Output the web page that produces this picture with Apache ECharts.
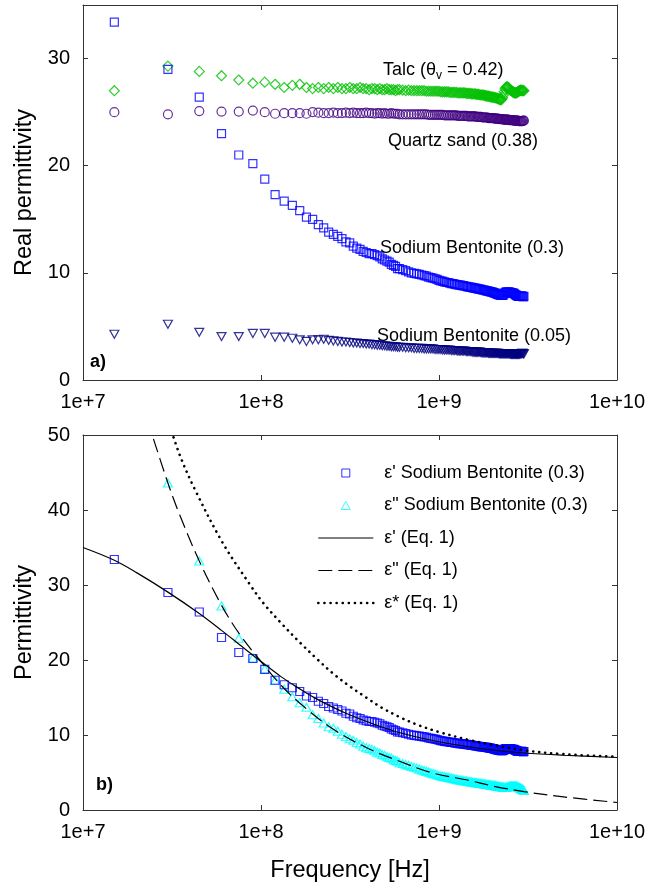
<!DOCTYPE html>
<html>
<head>
<meta charset="utf-8">
<title>Permittivity vs frequency</title>
<script src="https://cdn.jsdelivr.net/npm/echarts@6.0.0/dist/echarts.min.js"></script>
<style>
  html, body { margin: 0; padding: 0; background: #fff; }
  #chart { width: 648px; height: 888px; }
</style>
</head>
<body>
<div id="chart"></div>
<script>
// measured frequencies (MHz), shared by all measured series
var freqMHz = [15, 30, 45, 60, 75, 90, 105, 120, 135, 150,
  165, 180, 195, 210, 225, 240, 255, 270, 285, 300,
  315, 330, 345, 360, 375, 390, 405, 420, 435, 450,
  465, 480, 495, 510, 525, 540, 555, 570, 585, 600,
  625, 650, 675, 700, 725, 750, 775, 800,
  825, 850, 875, 900, 925, 950, 975, 1000,
  1025, 1050, 1075, 1100, 1125, 1150, 1175, 1200,
  1225, 1250, 1275, 1300, 1325, 1350, 1375, 1400,
  1425, 1450, 1475, 1500, 1525, 1550, 1575, 1600,
  1625, 1650, 1675, 1700, 1725, 1750, 1775, 1800,
  1825, 1850, 1875, 1900, 1925, 1950, 1975, 2000,
  2025, 2050, 2075, 2100, 2125, 2150, 2175, 2200,
  2225, 2250, 2275, 2300, 2325, 2350, 2375, 2400,
  2425, 2450, 2475, 2500, 2525, 2550, 2575, 2600,
  2625, 2650, 2675, 2700, 2725, 2750, 2775, 2800,
  2825, 2850, 2875, 2900, 2925, 2950, 2975, 3000];

// panel a) real permittivity
var talc = [27.0, 29.3, 28.8, 28.4, 28.0, 27.7, 27.8, 27.6, 27.3, 27.5,
  27.6, 27.3, 27.2, 27.3, 27.2, 27.3, 27.2, 27.3, 27.2, 27.2,
  27.3, 27.2, 27.2, 27.3, 27.2, 27.2, 27.1, 27.2, 27.2, 27.1,
  27.2, 27.1, 27.1, 27.2, 27.1, 27.1, 27.1, 27.0, 27.1, 27.1,
  27.05, 27.0, 27.05, 27.0, 27.0, 27.0, 27.0, 27.0,
  27.0, 26.95, 26.95, 26.95, 26.95, 26.95, 26.95, 26.95,
  26.9, 26.9, 26.9, 26.9, 26.9, 26.85, 26.85, 26.85,
  26.85, 26.85, 26.8, 26.8, 26.8, 26.8, 26.8, 26.8,
  26.75, 26.75, 26.75, 26.75, 26.7, 26.7, 26.7, 26.7,
  26.65, 26.65, 26.65, 26.6, 26.6, 26.6, 26.6, 26.55,
  26.55, 26.5, 26.5, 26.5, 26.45, 26.45, 26.4, 26.4,
  26.4, 26.35, 26.35, 26.3, 26.3, 26.25, 26.2, 26.2,
  26.15, 26.2, 26.35, 26.6, 26.9, 27.15, 27.3, 27.35,
  27.35, 27.3, 27.2, 27.1, 27.05, 27.0, 26.95, 26.9,
  26.85, 26.8, 26.8, 26.8, 26.8, 26.85, 26.9, 26.95,
  27.0, 27.0, 27.05, 27.05, 27.0, 27.0, 27.0, 27.0];

var quartz = [25.0, 24.8, 25.1, 25.05, 25.05, 25.15, 25.0, 24.85, 24.9, 24.9,
  24.9, 24.85, 25.0, 24.95, 24.9, 24.9, 24.95, 24.9, 24.9, 24.95,
  24.9, 24.95, 24.9, 24.9, 24.9, 24.95, 24.9, 24.9, 24.85, 24.9,
  24.9, 24.85, 24.9, 24.85, 24.85, 24.9, 24.85, 24.85, 24.85, 24.8,
  24.8, 24.8, 24.8, 24.8, 24.8, 24.8, 24.8, 24.8,
  24.8, 24.8, 24.75, 24.75, 24.75, 24.75, 24.75, 24.75,
  24.75, 24.75, 24.7, 24.7, 24.7, 24.7, 24.7, 24.7,
  24.7, 24.7, 24.65, 24.65, 24.65, 24.65, 24.65, 24.65,
  24.65, 24.6, 24.6, 24.6, 24.6, 24.6, 24.6, 24.6,
  24.55, 24.55, 24.55, 24.55, 24.55, 24.5, 24.5, 24.5,
  24.5, 24.5, 24.5, 24.45, 24.45, 24.45, 24.45, 24.45,
  24.45, 24.4, 24.4, 24.4, 24.4, 24.4, 24.35, 24.35,
  24.35, 24.35, 24.35, 24.3, 24.3, 24.3, 24.3, 24.3,
  24.3, 24.3, 24.25, 24.25, 24.25, 24.25, 24.25, 24.25,
  24.2, 24.2, 24.2, 24.2, 24.2, 24.2, 24.2, 24.15,
  24.15, 24.15, 24.15, 24.15, 24.15, 24.15, 24.2, 24.2];

var bent30 = [33.4, 29.0, 26.4, 23.0, 21.0, 20.2, 18.75, 17.3, 16.7, 16.3,
  15.8, 15.2, 15.0, 14.5, 14.2, 13.8, 13.6, 13.4, 13.2, 12.9,
  12.8, 12.5, 12.3, 12.2, 12.0, 11.9, 11.8, 11.8, 11.7, 11.6,
  11.5, 11.3, 11.2, 11.1, 11.0, 10.8, 10.7, 10.6, 10.4, 10.4,
  10.3, 10.2, 10.1, 10.0, 9.95, 9.9, 9.85, 9.8,
  9.75, 9.7, 9.6, 9.55, 9.5, 9.45, 9.4, 9.3,
  9.25, 9.2, 9.15, 9.1, 9.1, 9.05, 9.0, 9.0,
  8.95, 8.9, 8.9, 8.85, 8.85, 8.8, 8.8, 8.75,
  8.75, 8.7, 8.7, 8.65, 8.65, 8.6, 8.6, 8.55,
  8.55, 8.5, 8.5, 8.45, 8.45, 8.4, 8.4, 8.4,
  8.35, 8.35, 8.3, 8.3, 8.25, 8.25, 8.2, 8.2,
  8.15, 8.1, 8.1, 8.05, 8.0, 8.0, 7.95, 7.95,
  7.9, 7.9, 7.9, 7.95, 8.05, 8.15, 8.2, 8.2,
  8.2, 8.2, 8.2, 8.2, 8.15, 8.15, 8.1, 8.1,
  8.1, 8.05, 8.0, 7.95, 7.9, 7.85, 7.85, 7.8,
  7.8, 7.8, 7.8, 7.85, 7.8, 7.8, 7.75, 7.8];

var bent05 = [4.27, 5.2, 4.45, 4.05, 4.05, 4.35, 4.35, 4.0, 4.0, 3.9,
  3.75, 3.6, 3.75, 3.75, 3.8, 3.7, 3.65, 3.6, 3.55, 3.55,
  3.5, 3.45, 3.45, 3.4, 3.4, 3.35, 3.35, 3.3, 3.3, 3.25,
  3.25, 3.2, 3.2, 3.15, 3.15, 3.1, 3.1, 3.1, 3.05, 3.05,
  3.05, 3.0, 3.0, 3.0, 2.95, 2.95, 2.95, 2.95,
  2.9, 2.9, 2.9, 2.9, 2.9, 2.85, 2.85, 2.85,
  2.85, 2.8, 2.8, 2.8, 2.8, 2.8, 2.75, 2.75,
  2.75, 2.75, 2.7, 2.7, 2.7, 2.7, 2.7, 2.7,
  2.65, 2.65, 2.65, 2.65, 2.65, 2.6, 2.6, 2.6,
  2.6, 2.6, 2.6, 2.6, 2.55, 2.55, 2.55, 2.55,
  2.55, 2.55, 2.55, 2.5, 2.5, 2.5, 2.5, 2.5,
  2.5, 2.5, 2.5, 2.5, 2.5, 2.5, 2.45, 2.45,
  2.45, 2.45, 2.45, 2.45, 2.45, 2.45, 2.45, 2.45,
  2.45, 2.45, 2.45, 2.45, 2.4, 2.4, 2.4, 2.4,
  2.4, 2.4, 2.4, 2.4, 2.4, 2.4, 2.4, 2.4,
  2.4, 2.45, 2.45, 2.45, 2.5, 2.5, 2.45, 2.45];

// panel b) imaginary part of sodium bentonite (0.3); first point is off the axis
var bent30Loss = [null, 43.6, 33.2, 27.2, 22.9, 20.3, 18.8, 17.3, 16.1, 15.1,
  14.3, 13.7, 12.7, 12.2, 11.6, 11.1, 10.9, 10.5, 10.1, 9.8,
  9.5, 9.3, 9.0, 8.8, 8.5, 8.3, 8.2, 8.1, 7.9, 7.7,
  7.6, 7.4, 7.3, 7.1, 7.0, 6.9, 6.7, 6.6, 6.5, 6.3,
  6.2, 6.05, 5.95, 5.8, 5.7, 5.6, 5.45, 5.35,
  5.25, 5.15, 5.05, 4.95, 4.85, 4.8, 4.7, 4.6,
  4.55, 4.5, 4.45, 4.4, 4.35, 4.3, 4.25, 4.2,
  4.15, 4.1, 4.05, 4.0, 4.0, 3.95, 3.9, 3.9,
  3.85, 3.8, 3.8, 3.75, 3.75, 3.7, 3.7, 3.65,
  3.65, 3.6, 3.6, 3.55, 3.55, 3.5, 3.5, 3.45,
  3.45, 3.4, 3.4, 3.4, 3.35, 3.35, 3.3, 3.3,
  3.3, 3.25, 3.25, 3.2, 3.2, 3.15, 3.15, 3.1,
  3.1, 3.1, 3.05, 3.05, 3.0, 3.0, 3.0, 3.05,
  3.1, 3.1, 3.15, 3.2, 3.2, 3.2, 3.2, 3.2,
  3.2, 3.2, 3.2, 3.2, 3.15, 3.15, 3.1, 3.05,
  3.0, 2.95, 2.9, 2.85, 2.8, 2.75, 2.7, 2.6];

// Eq. 1 curves
var fitRealHz = [1e7, 1.5e7, 2e7, 3e7, 4.5e7, 6e7, 8e7, 1e8, 1.3e8, 1.6e8, 2e8, 3e8, 5e8, 7e8, 1e9, 1.5e9, 2e9, 3e9, 5e9, 1e10];
var fitReal = [35.0, 33.3, 31.65, 29.05, 26.2, 23.95, 21.6, 19.8, 17.75, 16.35, 14.95, 12.9, 10.9, 9.9, 9.1, 8.4, 8.0, 7.6, 7.3, 7.0];

var fitLossHz = [2.3e7, 3e7, 3.5e7, 4.5e7, 6e7, 7.6e7, 1e8, 1.3e8, 1.66e8, 2.5e8, 4e8, 6e8, 9e8, 1.5e9, 2e9, 3e9, 5e9, 1e10];
var fitLoss = [52, 43.6, 39.3, 33.2, 27.3, 23.4, 19.8, 16.6, 14.2, 10.9, 8.2, 6.5, 5.0, 3.9, 3.2, 2.45, 1.75, 1.0];

var fitMagHz = [3.0e7, 3.5e7, 4.26e7, 6.1e7, 8.7e7, 1.03e8, 1.3e8, 1.66e8, 2.05e8, 2.54e8, 3.15e8, 3.9e8, 4.8e8, 6e8, 7.5e8, 1e9, 1.5e9, 2e9, 3e9, 5e9, 1e10];
var fitMag = [52, 47.3, 42.7, 35.6, 30.0, 27.6, 24.9, 22.3, 20.2, 18.2, 16.5, 15.0, 13.6, 12.4, 11.4, 10.4, 9.3, 8.7, 7.95, 7.45, 7.1];

var FONT = "'Liberation Sans', Arial, Helvetica, sans-serif";
var AXIS = '#333';

var NAME_E1 = "ε' Sodium Bentonite (0.3)";
var NAME_E2 = 'ε" Sodium Bentonite (0.3)';
var NAME_F1 = "ε' (Eq. 1)";
var NAME_F2 = 'ε" (Eq. 1)';
var NAME_F3 = 'ε* (Eq. 1)';

function measured(values) {
  var out = [];
  freqMHz.forEach(function (f, i) {
    if (values[i] != null) out.push([f * 1e6, values[i]]);
  });
  return out;
}

function curve(hz, values) {
  return hz.map(function (h, i) { return [h, values[i]]; });
}

function xAxisFor(gridIndex, position, name) {
  return {
    type: 'log', logBase: 10, gridIndex: gridIndex, position: position,
    min: 1e7, max: 1e10,
    axisLine: { show: true, onZero: false, lineStyle: { color: AXIS, width: 1 } },
    axisTick: { show: true, inside: true, length: 5, lineStyle: { color: AXIS } },
    minorTick: { show: false },
    splitLine: { show: false },
    axisLabel: {
      show: position === 'bottom', margin: 12, color: '#000', fontSize: 20, fontFamily: FONT,
      formatter: function (v) { return '1e+' + Math.round(Math.log10(v)); }
    },
    name: name || '', nameLocation: 'middle', nameGap: 49,
    nameTextStyle: { color: '#000', fontSize: 23.5, fontFamily: FONT }
  };
}

function yAxisFor(gridIndex, position, max, name) {
  return {
    type: 'value', gridIndex: gridIndex, position: position,
    min: 0, max: max, interval: 10,
    axisLine: { show: true, onZero: false, lineStyle: { color: AXIS, width: 1 } },
    axisTick: { show: true, inside: true, length: 5, lineStyle: { color: AXIS } },
    splitLine: { show: false },
    axisLabel: {
      show: position === 'left', margin: 13, color: '#000', fontSize: 20, fontFamily: FONT,
      formatter: function (v) { return v % 10 === 0 ? String(v) : ''; }
    },
    name: name || '', nameLocation: 'middle', nameGap: 46,
    nameTextStyle: { color: '#000', fontSize: 23.5, fontFamily: FONT }
  };
}

function markers(name, xi, yi, values, symbol, size, color, rotate) {
  return {
    type: 'scatter', name: name, xAxisIndex: xi, yAxisIndex: yi,
    data: measured(values),
    symbol: symbol, symbolSize: size, symbolRotate: rotate || 0,
    itemStyle: { color: 'rgba(0,0,0,0)', borderColor: color, borderWidth: 1.2 },
    emphasis: { disabled: true }, silent: true
  };
}

function fitLine(name, hz, values, lineStyle) {
  return {
    type: 'line', name: name, xAxisIndex: 2, yAxisIndex: 2,
    data: curve(hz, values), smooth: 0.35, symbol: 'none', showSymbol: false,
    lineStyle: lineStyle, itemStyle: { color: '#000' }, clip: true,
    emphasis: { disabled: true }, silent: true, z: 5
  };
}

var solidStyle = { color: '#000', width: 1.2, type: 'solid' };
var dashStyle = { color: '#000', width: 1.2, type: [14, 6] };
var dotStyle = { color: '#000', width: 2.6, type: [0.1, 6], cap: 'round' };

var option = {
  backgroundColor: '#fff',
  animation: false,
  textStyle: { fontFamily: FONT },
  grid: [
    { left: 83, top: 5, width: 534, height: 375, containLabel: false, outerBoundsMode: 'none' },
    { left: 83, top: 435, width: 534, height: 375, containLabel: false, outerBoundsMode: 'none' }
  ],
  xAxis: [
    xAxisFor(0, 'bottom'), xAxisFor(0, 'top'),
    xAxisFor(1, 'bottom', 'Frequency [Hz]'), xAxisFor(1, 'top')
  ],
  yAxis: [
    yAxisFor(0, 'left', 35, 'Real permittivity'), yAxisFor(0, 'right', 35),
    yAxisFor(1, 'left', 50, 'Permittivity'), yAxisFor(1, 'right', 50)
  ],
  legend: {
    show: true, orient: 'vertical', left: 317, top: 464, padding: 0,
    itemGap: 14.5, itemWidth: 55, itemHeight: 8, selectedMode: false,
    textStyle: { fontSize: 18, fontFamily: FONT, color: '#000', padding: [0, 0, 0, 6] },
    data: [
      { name: NAME_E1, icon: 'path://M0,0H8V8H0Z',
        itemStyle: { color: 'rgba(0,0,0,0)', borderColor: '#0000ff', borderWidth: 1 } },
      { name: NAME_E2, icon: 'path://M4.5,0L9,8H0Z',
        itemStyle: { color: 'rgba(0,0,0,0)', borderColor: '#00ffff', borderWidth: 1 } },
      { name: NAME_F1, itemStyle: { opacity: 0 }, lineStyle: solidStyle },
      { name: NAME_F2, itemStyle: { opacity: 0 }, lineStyle: dashStyle },
      { name: NAME_F3, itemStyle: { opacity: 0 }, lineStyle: dotStyle }
    ]
  },
  graphic: [
    { type: 'text', left: 383, top: 61, silent: true,
      style: { text: 'Talc (θ{s|v} = 0.42)', fontSize: 18, fontFamily: FONT, fill: '#000',
        rich: { s: { fontSize: 12, fontFamily: FONT, padding: [11, 0, 0, 0] } } } },
    { type: 'text', left: 388, top: 132, silent: true,
      style: { text: 'Quartz sand (0.38)', fontSize: 18, fontFamily: FONT, fill: '#000' } },
    { type: 'text', left: 380, top: 239, silent: true,
      style: { text: 'Sodium Bentonite (0.3)', fontSize: 18, fontFamily: FONT, fill: '#000' } },
    { type: 'text', left: 377, top: 327, silent: true,
      style: { text: 'Sodium Bentonite (0.05)', fontSize: 18, fontFamily: FONT, fill: '#000' } },
    { type: 'text', left: 90, top: 353, silent: true,
      style: { text: 'a)', fontSize: 18, fontWeight: 'bold', fontFamily: FONT, fill: '#000' } },
    { type: 'text', left: 96, top: 776, silent: true,
      style: { text: 'b)', fontSize: 18, fontWeight: 'bold', fontFamily: FONT, fill: '#000' } }
  ],
  series: [
    markers('Sodium Bentonite (0.05)', 0, 0, bent05, 'triangle', [9, 8], '#000080', 180),
    markers('Quartz sand (0.38)', 0, 0, quartz, 'circle', 9, '#40007f'),
    markers('Talc (0.42)', 0, 0, talc, 'diamond', [10, 10], '#00c000'),
    markers('Sodium Bentonite (0.3)', 0, 0, bent30, 'rect', 8, '#0000ff'),
    markers(NAME_E2, 2, 2, bent30Loss, 'triangle', [9, 8], '#00ffff'),
    markers(NAME_E1, 2, 2, bent30, 'rect', 8, '#0000ff'),
    fitLine(NAME_F1, fitRealHz, fitReal, solidStyle),
    fitLine(NAME_F2, fitLossHz, fitLoss, dashStyle),
    fitLine(NAME_F3, fitMagHz, fitMag, dotStyle)
  ]
};

var chart = echarts.init(document.getElementById('chart'), null, { renderer: 'canvas' });
chart.setOption(option);
</script>
</body>
</html>
